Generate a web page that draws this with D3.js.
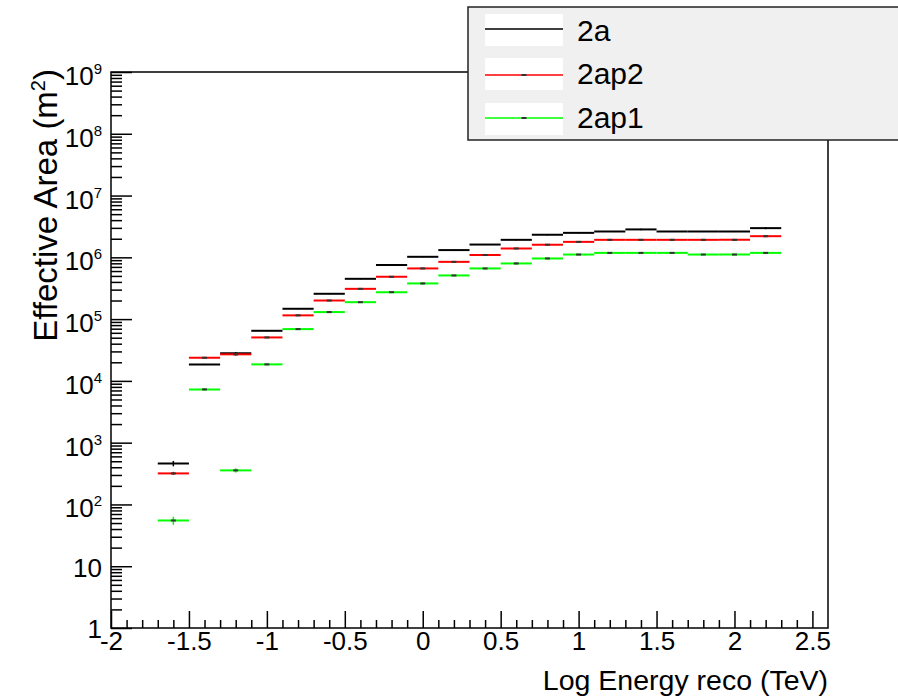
<!DOCTYPE html>
<html>
<head>
<meta charset="utf-8">
<script src="https://cdn.jsdelivr.net/npm/d3@7/dist/d3.min.js"></script>
<style>
  html, body { margin: 0; padding: 0; background: #fff; }
  svg { display: block; font-family: "Liberation Sans", Arial, sans-serif; }
</style>
</head>
<body>
<svg id="chart" width="898" height="698"></svg>
<script>
// ---- data ----
const binCenters = [-1.6, -1.4, -1.2, -1.0, -0.8, -0.6, -0.4, -0.2, 0.0, 0.2, 0.4, 0.6, 0.8, 1.0, 1.2, 1.4, 1.6, 1.8, 2.0, 2.2];
const binWidth = 0.2;
const series2a   = [460, 18500, 28000, 64700, 147000, 257000, 449000, 748000, 1.02e6, 1.31e6, 1.61e6, 1.92e6, 2.31e6, 2.49e6, 2.62e6, 2.83e6, 2.62e6, 2.62e6, 2.62e6, 2.97e6];
const series2ap2 = [318, 23700, 26900, 50500, 115000, 200000, 309000, 484000, 661000, 845000, 1.09e6, 1.39e6, 1.60e6, 1.78e6, 1.92e6, 1.92e6, 1.92e6, 1.92e6, 1.92e6, 2.20e6];
const series2ap1 = [55, 7280, 356, 18500, 68900, 130000, 188000, 273000, 378000, 509000, 661000, 796000, 960000, 1.11e6, 1.18e6, 1.18e6, 1.18e6, 1.11e6, 1.11e6, 1.18e6];
// relative statistical errors (estimated)
const err2a   = [0.10, 0.02, 0.05, 0.02, 0.02, 0.02, 0.02, 0.02, 0.02, 0.02, 0.02, 0.02, 0.02, 0.02, 0.02, 0.03, 0.02, 0.02, 0.02, 0.04];
const err2ap2 = [0.06, 0.02, 0.05, 0.02, 0.02, 0.02, 0.02, 0.02, 0.02, 0.02, 0.02, 0.02, 0.02, 0.02, 0.02, 0.02, 0.02, 0.02, 0.02, 0.04];
const err2ap1 = [0.15, 0.04, 0.08, 0.02, 0.02, 0.02, 0.02, 0.02, 0.04, 0.02, 0.02, 0.04, 0.02, 0.02, 0.02, 0.02, 0.02, 0.02, 0.03, 0.03];
const seriesNames = ["2a", "2ap2", "2ap1"];
const seriesColors = ["#000000", "#ff0000", "#00ff00"];
const xMajorTicks = [-2, -1.5, -1, -0.5, 0, 0.5, 1, 1.5, 2, 2.5];
const xTickLabels = ["-2", "-1.5", "-1", "-0.5", "0", "0.5", "1", "1.5", "2", "2.5"];
const yExponents = [0, 1, 2, 3, 4, 5, 6, 7, 8, 9];
const xTitle = "Log Energy reco (TeV)";
const yTitle = "Effective Area (m";

// ---- layout ----
const svg = d3.select("#chart");
const L = 111, R = 828, T = 72, B = 628;
const x = d3.scaleLinear().domain([-2, 2.6]).range([L, R]);
const y = d3.scaleLog().domain([1, 1e9]).range([B, T]);

// frame
svg.append("rect").attr("x", L).attr("y", T).attr("width", R - L).attr("height", B - T)
  .attr("fill", "none").attr("stroke", "#000").attr("stroke-width", 1.5);

// x minor ticks
const xMinor = d3.range(-20, 26).map(i => i / 10).filter(v => Math.abs(v * 2 - Math.round(v * 2)) > 1e-6);
const gxMinor = svg.append("g").attr("transform", `translate(0,${B})`)
  .call(d3.axisBottom(x).tickValues(xMinor).tickSizeInner(-8).tickSizeOuter(0).tickFormat(""));
gxMinor.select(".domain").remove();
const gx = svg.append("g").attr("transform", `translate(0,${B})`)
  .call(d3.axisBottom(x).tickValues(xMajorTicks).tickSizeInner(-17).tickSizeOuter(0).tickPadding(4)
    .tickFormat((d, i) => xTickLabels[i]));
gx.select(".domain").remove();
gx.selectAll("line").attr("stroke-width", 1.5);
gxMinor.selectAll("line").attr("stroke-width", 1.5);
gx.selectAll("text").attr("font-size", 26).attr("fill", "#000")
  .attr("font-family", "Liberation Sans, Arial, sans-serif");

// y minor ticks
const yMinor = [];
yExponents.slice(0, -1).forEach(e => { for (let k = 2; k <= 9; k++) yMinor.push(k * Math.pow(10, e)); });
const gyMinor = svg.append("g").attr("transform", `translate(${L},0)`)
  .call(d3.axisLeft(y).tickValues(yMinor).tickSizeInner(-11).tickSizeOuter(0).tickFormat(""));
gyMinor.select(".domain").remove();
gyMinor.selectAll("line").attr("stroke-width", 1.5);
const yMajor = yExponents.map(e => Math.pow(10, e));
const gy = svg.append("g").attr("transform", `translate(${L},0)`)
  .call(d3.axisLeft(y).tickValues(yMajor).tickSizeInner(-21).tickSizeOuter(0).tickPadding(9).tickFormat(""));
gy.select(".domain").remove();
gy.selectAll("line").attr("stroke-width", 1.5);
gy.selectAll(".tick").each(function (d, i) {
  const e = yExponents[i];
  const t = d3.select(this).select("text")
    .attr("font-size", 26).attr("fill", "#000").attr("text-anchor", "end")
    .attr("font-family", "Liberation Sans, Arial, sans-serif")
    .attr("dy", null);
  if (e === 0) { t.attr("y", 9).text("1"); }
  else if (e === 1) { t.attr("y", 10.5).text("10"); }
  else {
    t.attr("y", 12.5);
    t.append("tspan").text("10");
    t.append("tspan").attr("dy", -11).attr("font-size", 15).text(String(e));
  }
});

// titles
svg.append("text").attr("x", R).attr("y", 690).attr("text-anchor", "end")
  .attr("font-size", 28.5).attr("fill", "#000").text(xTitle);
const yt = svg.append("text").attr("transform", `translate(57,69) rotate(-90)`)
  .attr("text-anchor", "end").attr("font-size", 33).attr("fill", "#000");
yt.append("tspan").text(yTitle);
yt.append("tspan").attr("dy", -12).attr("font-size", 20).text("2");
yt.append("tspan").attr("dy", 12).text(")");

// histograms
const allSeries = [series2a, series2ap2, series2ap1];
const allErr = [err2a, err2ap2, err2ap1];
allSeries.forEach((vals, si) => {
  const g = svg.append("g");
  const data = binCenters.map((c, i) => ({ c, v: vals[i], e: allErr[si][i] }));
  g.selectAll("line.h").data(data).join("line").attr("class", "h")
    .attr("x1", d => x(d.c - binWidth / 2)).attr("x2", d => x(d.c + binWidth / 2))
    .attr("y1", d => y(d.v)).attr("y2", d => y(d.v))
    .attr("stroke", seriesColors[si]).attr("stroke-width", 2);
  g.selectAll("line.v").data(data).join("line").attr("class", "v")
    .attr("x1", d => x(d.c)).attr("x2", d => x(d.c))
    .attr("y1", d => y(d.v * (1 + d.e))).attr("y2", d => y(d.v * (1 - d.e)))
    .attr("stroke", seriesColors[si]).attr("stroke-width", 1.5);
  if (si > 0) {
    g.selectAll("rect.m").data(data).join("rect").attr("class", "m")
      .attr("x", d => x(d.c) - 2.5).attr("y", d => y(d.v) - 1)
      .attr("width", 5).attr("height", 2).attr("fill", "#333");
  }
});

// legend
const lg = svg.append("g");
lg.append("rect").attr("x", 468).attr("y", 7).attr("width", 440).attr("height", 133)
  .attr("fill", "#f0f0f0").attr("stroke", "#222").attr("stroke-width", 1.5);
const rowBoxY = [14, 58, 103];
const rowLineY = [29, 75, 118];
const rowTextY = [41, 84, 128];
seriesNames.forEach((name, i) => {
  lg.append("rect").attr("x", 485).attr("y", rowBoxY[i]).attr("width", 78).attr("height", 32).attr("fill", "#fff");
  lg.append("line").attr("x1", 485).attr("x2", 563).attr("y1", rowLineY[i]).attr("y2", rowLineY[i])
    .attr("stroke", seriesColors[i]).attr("stroke-width", 1.5);
  if (i > 0) lg.append("rect").attr("x", 521.5).attr("y", rowLineY[i] - 1).attr("width", 5).attr("height", 2).attr("fill", "#333");
  lg.append("text").attr("x", 577).attr("y", rowTextY[i]).attr("font-size", 30).attr("fill", "#000").text(name);
});
</script>
</body>
</html>
